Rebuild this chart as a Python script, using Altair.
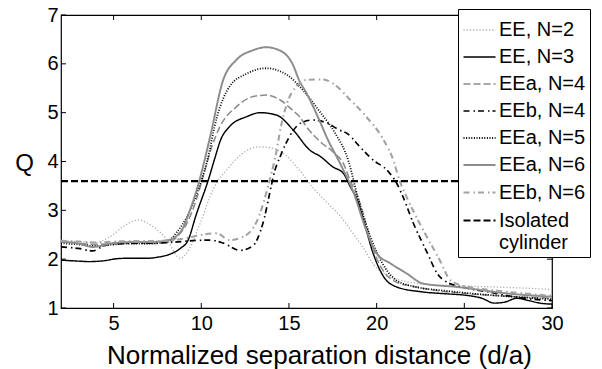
import altair as alt
import pandas as pd

series_names = ["EE, N=2", "EE, N=3", "EEa, N=4", "EEb, N=4",
                "EEa, N=5", "EEa, N=6", "EEb, N=6", "Isolated cylinder"]

ee2_x = [2, 3, 4, 4.8, 5.6, 6.4, 7.2, 8.0, 8.8, 9.3, 9.9, 10.7, 11.5, 12.3, 13.3, 14.1, 14.9,
         15.6, 16.4, 17.2, 18.0, 18.6, 19.3, 19.8, 20.8, 22, 23.5, 25, 27.5, 30]
ee2_q = [2.38, 2.36, 2.34, 2.46, 2.68, 2.8, 2.68, 2.42, 2.02, 2.2, 2.7, 3.45, 3.85, 4.15, 4.3, 4.27, 4.1,
         3.82, 3.45, 3.15, 2.85, 2.55, 2.2, 1.9, 1.64, 1.52, 1.47, 1.45, 1.42, 1.38]

ee3_x = [2, 3, 3.6, 4.5, 5.2, 6, 7, 7.5, 8.2, 8.8, 9.25, 9.7, 10.4, 10.8, 11.1, 11.6, 12.6, 13.35,
         14.3, 15.25, 16.2, 16.8, 17.5, 18.1, 18.5, 18.9, 19.25, 19.8, 20.4, 21.15, 22.6, 24, 25.1,
         26, 26.7, 27.3, 28, 28.7, 29.3, 30]
ee3_q = [1.98, 1.96, 1.95, 1.97, 2.01, 2.02, 2.02, 2.04, 2.1, 2.22, 2.39, 2.9, 3.62, 4.1, 4.44, 4.71, 4.92, 5.0,
         4.95, 4.64, 4.23, 4.1, 3.89, 3.76, 3.48, 3.21, 2.8, 2.12, 1.64, 1.43, 1.33, 1.29, 1.26,
         1.2, 1.1, 1.12, 1.2, 1.15, 1.1, 1.08]

eea4_x = [2, 3, 3.8, 5, 6, 7, 8, 8.6, 9.2, 9.7, 10.1, 10.6, 11.06, 12, 12.96, 13.7, 14.5, 15.2, 15.6,
          16, 16.8, 17.5, 18.1, 18.5, 18.9, 19.3, 19.8, 20.4, 21, 22, 23, 25, 27, 30]
eea4_q = [2.35, 2.33, 2.3, 2.32, 2.33, 2.32, 2.33, 2.45, 2.75, 3.2, 3.69, 4.3, 4.71, 5.12, 5.33, 5.36, 5.26, 5.05, 4.92,
          4.71, 4.4, 4.2, 3.96, 3.6, 3.3, 2.85, 2.2, 1.75, 1.55, 1.45, 1.38, 1.3, 1.25, 1.2]

eeb4_x = [2, 3, 3.8, 4.5, 5.5, 7, 8.5, 9.5, 10.5, 11.25, 12.2, 12.96, 13.35, 13.6, 13.9, 14.2, 14.5, 14.8,
          15.25, 15.8, 16.4, 17.15, 17.9, 18.3, 19.05, 19.8, 20.6, 21.15, 21.5, 22.1, 22.9, 23.45, 24,
          25, 26.5, 28, 30]
eeb4_q = [2.25, 2.22, 2.17, 2.28, 2.32, 2.33, 2.35, 2.38, 2.39, 2.33, 2.18, 2.28, 2.55, 2.85, 3.35, 3.82, 4.1, 4.35,
          4.64, 4.81, 4.85, 4.79, 4.64, 4.58, 4.3, 4.03, 3.82, 3.55, 3.28, 2.73, 2.12, 1.71, 1.53,
          1.42, 1.32, 1.22, 1.15]

eea5_x = [2, 3, 4, 5, 6, 7, 8, 8.6, 9.3, 9.8, 10.3, 10.9, 11.6, 12.6, 13.7, 14.9, 15.8, 16.8, 17.6,
          18.4, 18.9, 19.6, 20.2, 21, 22, 24, 27, 30]
eea5_q = [2.33, 2.3, 2.27, 2.3, 2.32, 2.32, 2.35, 2.55, 2.95, 3.4, 3.96, 4.92, 5.53, 5.8, 5.91, 5.77, 5.46, 5.0, 4.6,
          4.0, 3.3, 2.5, 2.0, 1.6, 1.45, 1.35, 1.25, 1.18]

eea6_x = [2, 3, 3.8, 5, 6, 7, 8, 8.8, 9.4, 9.9, 10.5, 11.25, 12, 12.96, 13.7, 14.5, 15.2, 15.6, 16,
          16.8, 17.15, 18, 18.7, 19.4, 20, 20.8, 21.7, 22.65, 24.6, 27.4, 30]
eea6_q = [2.36, 2.32, 2.25, 2.33, 2.35, 2.35, 2.38, 2.55, 3.05, 3.62, 4.5, 5.67, 6.08, 6.28, 6.34, 6.27, 6.0, 5.65, 5.4,
          4.79, 4.5, 3.9, 3.35, 2.6, 2.12, 1.91, 1.71, 1.5, 1.43, 1.3, 1.23]

eeb6_x = [2, 3, 4, 5, 6, 7, 8, 9, 9.9, 10.9, 11.6, 12.4, 13.2, 13.9, 14.3, 14.5, 14.9, 15.4, 16.0,
          16.95, 17.5, 18.5, 19.4, 20.4, 20.95, 21.3, 21.7, 22.65, 23.6, 24.2, 25, 27, 30]
eeb6_q = [2.38, 2.36, 2.34, 2.36, 2.37, 2.37, 2.38, 2.42, 2.49, 2.53, 2.39, 2.46, 2.8, 3.62, 4.23, 4.64, 5.2, 5.53, 5.67,
          5.68, 5.6, 5.26, 4.92, 4.44, 4.03, 3.62, 3.28, 2.6, 1.98, 1.57, 1.45, 1.35, 1.25]

iso_x = [2, 30]
iso_q = [3.6, 3.6]

x_ticks = [5, 10, 15, 20, 25, 30]
y_ticks = [1, 2, 3, 4, 5, 6, 7]

colors = ["#ababab", "#000000", "#8c8c8c", "#000000", "#000000", "#8c8c8c", "#a2a2a2", "#000000"]
dashes = [[1.2, 2], [1, 0], [7, 3], [6, 4, 1.5, 3], [1, 1.6], [1, 0], [6, 4, 1.5, 3], [7, 3]]
widths = [1.3, 2.2, 2.6, 2.2, 1.3, 2.6, 1.7, 3.2]

all_x = [ee2_x, ee3_x, eea4_x, eeb4_x, eea5_x, eea6_x, eeb6_x, iso_x]
all_q = [ee2_q, ee3_q, eea4_q, eeb4_q, eea5_q, eea6_q, eeb6_q, iso_q]

rows = []
for name, xs, qs in zip(series_names, all_x, all_q):
    for i, (xv, qv) in enumerate(zip(xs, qs)):
        rows.append({"series": name, "x": xv, "Q": qv, "idx": i})
df = pd.DataFrame(rows)

W, H = 491, 293
FONT = "Liberation Sans"

xscale = alt.Scale(domain=[2, 30], nice=False, zero=False)
yscale = alt.Scale(domain=[1, 7], nice=False, zero=False)

legend = alt.Legend(
    orient="none", legendX=397, legendY=-6,
    fillColor="white", strokeColor="black", padding=4,
    symbolType="stroke", symbolSize=1024,
    labelFontSize=20, labelFont=FONT, labelColor="black",
    labelOffset=2, rowPadding=-5.4, labelLimit=200,
    labelExpr="datum.label == 'Isolated cylinder' ? ['Isolated', 'cylinder'] : datum.label",
)

lines = alt.Chart(df).mark_line(interpolate="monotone").encode(
    x=alt.X("x:Q", scale=xscale,
            axis=alt.Axis(values=x_ticks, ticks=False, domain=False, grid=False,
                          labelFontSize=20, labelFont=FONT, labelColor="black",
                          labelPadding=5, labelFlush=False,
                          title="Normalized separation distance (d/a)",
                          titleFontSize=26, titleFont=FONT, titleFontWeight="normal",
                          titleColor="black", titleX=258, titleY=55,
                          titleBaseline="alphabetic", titleAlign="center")),
    y=alt.Y("Q:Q", scale=yscale,
            axis=alt.Axis(values=y_ticks, ticks=False, domain=False, grid=False,
                          labelFontSize=20, labelFont=FONT, labelColor="black",
                          labelPadding=3, labelFlush=False,
                          title="Q", titleAngle=0, titleFontSize=24, titleFont=FONT,
                          titleFontWeight="normal", titleColor="black",
                          titleX=-37, titleY=148, titleAlign="center",
                          titleBaseline="middle")),
    color=alt.Color("series:N", scale=alt.Scale(domain=series_names, range=colors),
                    legend=legend, title=None),
    strokeDash=alt.StrokeDash("series:N", scale=alt.Scale(domain=series_names, range=dashes),
                              legend=legend, title=None),
    strokeWidth=alt.StrokeWidth("series:O", scale=alt.Scale(domain=series_names, range=widths),
                                legend=legend, title=None),
    order="idx:Q",
)

xt = pd.DataFrame({"x": x_ticks})
yt = pd.DataFrame({"Q": y_ticks})

bottom_ticks = alt.Chart(xt).mark_rule(color="black", strokeWidth=1).encode(
    x=alt.X("x:Q", scale=xscale), y=alt.value(H), y2=alt.value(H - 5))
top_ticks = alt.Chart(xt).mark_rule(color="black", strokeWidth=1).encode(
    x=alt.X("x:Q", scale=xscale), y=alt.value(0), y2=alt.value(5))
left_ticks = alt.Chart(yt).mark_rule(color="black", strokeWidth=1).encode(
    y=alt.Y("Q:Q", scale=yscale), x=alt.value(0), x2=alt.value(5))
right_ticks = alt.Chart(yt).mark_rule(color="black", strokeWidth=1).encode(
    y=alt.Y("Q:Q", scale=yscale), x=alt.value(W), x2=alt.value(W - 5))

chart = alt.layer(bottom_ticks, top_ticks, left_ticks, right_ticks, lines).properties(
    width=W, height=H,
    autosize="none",
    padding={"left": 61, "top": 15, "right": 50, "bottom": 61},
    background="white",
).configure_view(stroke="black", strokeWidth=1.2)

chart.save("out.html", embed_options={"renderer": "svg", "actions": False})
